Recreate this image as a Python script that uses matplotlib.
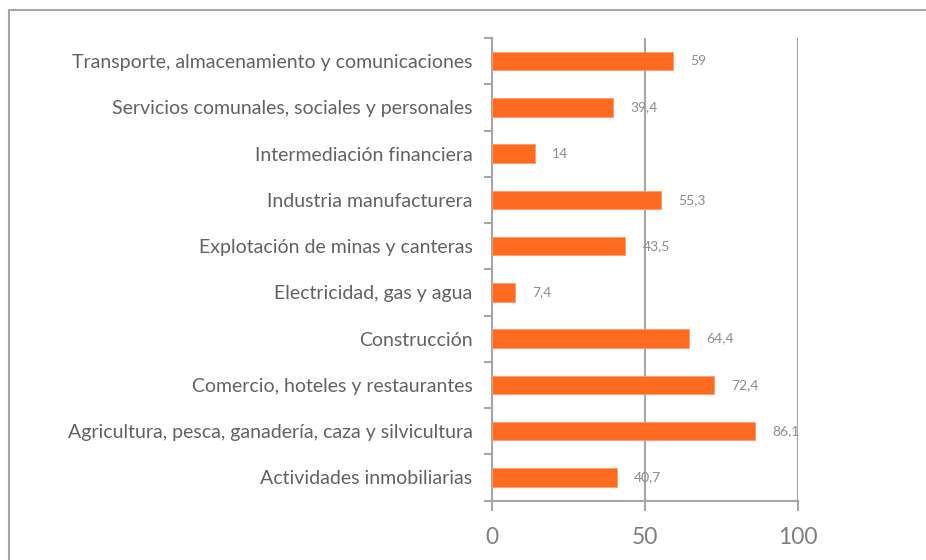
import matplotlib.pyplot as plt
from matplotlib.patches import Rectangle
from matplotlib.ticker import FixedLocator

plt.rcParams["font.family"] = ["Lato", "DejaVu Sans"]

# bottom to top
categorias = [
    "Actividades inmobiliarias",
    "Agricultura, pesca, ganadería, caza y silvicultura",
    "Comercio, hoteles y restaurantes",
    "Construcción",
    "Electricidad, gas y agua",
    "Explotación de minas y canteras",
    "Industria manufacturera",
    "Intermediación financiera",
    "Servicios comunales, sociales y personales",
    "Transporte, almacenamiento y comunicaciones",
]
valores = [40.7, 86.1, 72.4, 64.4, 7.4, 43.5, 55.3, 14, 39.4, 59]
x_ticks = [0, 50, 100]

naranja = "#FF6A21"
gris_linea = "#A6A6A6"
gris_texto = "#626262"

fig = plt.figure(figsize=(9.26, 5.6), dpi=100)
ax = fig.add_axes([492 / 926, 1 - 500.5 / 560, (798 - 492) / 926, (500.5 - 38) / 560])

y = list(range(len(categorias)))
ax.barh(y, valores, height=0.4, color=naranja, edgecolor="#FF9A6A", linewidth=0.6, zorder=3)

for yi, v in zip(y, valores):
    txt = f"{v:g}".replace(".", ",")
    ax.annotate(txt, (v, yi), xytext=(12.5, 0), textcoords="offset points",
                va="center", ha="left", fontsize=10, color="#8C8C8C", zorder=4)

ax.set_xlim(0, 100)
ax.set_ylim(-0.5, len(categorias) - 0.5)

ax.set_xticks(x_ticks)
ax.set_xticklabels([str(t) for t in x_ticks], fontsize=16.5, color="#7F7F7F")
ax.tick_params(axis="x", length=7, width=1.5, color=gris_linea, pad=12)
ax.xaxis.grid(True, color=gris_linea, linewidth=1.5, zorder=0)

ax.set_yticks(y)
ax.set_yticklabels(categorias, fontsize=14, color=gris_texto)
ax.tick_params(axis="y", which="major", length=0, pad=14)
ax.yaxis.set_minor_locator(FixedLocator([i - 0.5 for i in range(len(categorias) + 1)]))
ax.tick_params(axis="y", which="minor", length=6, width=1.5, color=gris_linea)

for s in ["top", "right"]:
    ax.spines[s].set_visible(False)
for s in ["left", "bottom"]:
    ax.spines[s].set_color(gris_linea)
    ax.spines[s].set_linewidth(1.5)

# chart area border
fig.patches.append(Rectangle((8.5 / 926, -0.1), 1.0, 1 - 9.5 / 560 + 0.1,
                             transform=fig.transFigure, fill=False,
                             edgecolor=gris_linea, linewidth=1.5))

fig.savefig("out.png", dpi=100)
